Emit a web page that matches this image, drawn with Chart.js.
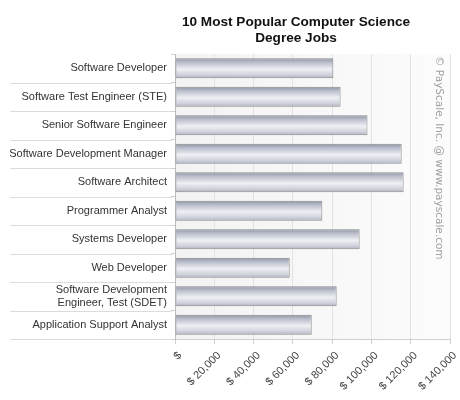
<!DOCTYPE html>
<html>
<head>
<meta charset="utf-8">
<script src="https://cdn.jsdelivr.net/npm/chart.js@4"></script>
<style>
  html, body { margin: 0; padding: 0; background: #fff; }
  #wrap { width: 460px; height: 400px; }
</style>
</head>
<body>
<div id="wrap"><canvas id="myChart" width="460" height="400"></canvas></div>
<script>
const jobs = [
  "Software Developer",
  "Software Test Engineer (STE)",
  "Senior Software Engineer",
  "Software Development Manager",
  "Software Architect",
  "Programmer Analyst",
  "Systems Developer",
  "Web Developer",
  ["Software Development", "Engineer, Test (SDET)"],
  "Application Support Analyst"
];
const medianPay = [80600, 84300, 98000, 115400, 116400, 75000, 94000, 58400, 82300, 69600];
const xTicks = [0, 20000, 40000, 60000, 80000, 100000, 120000, 140000];
const titleLines = ["10 Most Popular Computer Science", "Degree Jobs"];
const watermark = "\u00a9 PayScale, Inc. @ www.payscale.com";

const FONT = "'Liberation Sans', Arial, sans-serif";
const BAR_PCT = 0.7;

function fmtMoney(v) {
  if (v === 0) return "$";
  return "$ " + v.toLocaleString("en-US");
}

// bar fill: darker edges top/bottom, light band in the middle
function barFill(ctx) {
  const chart = ctx.chart;
  const ys = chart.scales.y;
  if (!chart.chartArea || !ys || ctx.dataIndex === undefined) return "#c8ccd6";
  const c = ys.getPixelForValue(ctx.dataIndex);
  const h = Math.abs(ys.getPixelForValue(1) - ys.getPixelForValue(0)) * BAR_PCT;
  const top = c - h / 2;
  const g = chart.ctx.createLinearGradient(0, top, 0, top + h);
  g.addColorStop(0, "#8d93a5");
  g.addColorStop(0.2, "#b9bdca");
  g.addColorStop(0.55, "#eef0f4");
  g.addColorStop(0.85, "#cdd0da");
  g.addColorStop(1, "#a6abba");
  return g;
}

const decor = {
  id: "decor",
  beforeDraw(chart) {
    const { ctx, chartArea: a } = chart;
    ctx.save();
    const g = ctx.createLinearGradient(a.left, 0, a.right, 0);
    g.addColorStop(0, "#f3f3f3");
    g.addColorStop(1, "#fcfcfc");
    ctx.fillStyle = g;
    ctx.fillRect(a.left, a.top, a.right - a.left, a.bottom - a.top);
    // row separators in the label column
    const y = chart.scales.y;
    const step = y.getPixelForValue(1) - y.getPixelForValue(0);
    ctx.strokeStyle = "#dcdcdc";
    ctx.lineWidth = 1;
    for (let i = 0; i < jobs.length; i++) {
      const yy = Math.round(y.getPixelForValue(i) + step / 2) + 0.5;
      ctx.beginPath();
      ctx.moveTo(10, yy);
      ctx.lineTo(a.left - 3, yy);
      ctx.stroke();
    }
    ctx.restore();
  },
  afterDraw(chart) {
    const { ctx, chartArea: a } = chart;
    ctx.save();
    // title
    ctx.fillStyle = "#111";
    ctx.font = "bold 13.6px " + FONT;
    ctx.textAlign = "center";
    ctx.textBaseline = "middle";
    titleLines.forEach((t, i) => ctx.fillText(t, 296, 22 + i * 16));
    // watermark, rotated clockwise
    ctx.translate(439, a.top + 2);
    ctx.rotate(Math.PI / 2);
    ctx.fillStyle = "#a0a0a0";
    ctx.font = "10.5px 'DejaVu Sans', sans-serif";
    ctx.textAlign = "left";
    ctx.fillText(watermark, 0, 0);
    ctx.restore();
  }
};

new Chart(document.getElementById("myChart"), {
  type: "bar",
  data: {
    labels: jobs,
    datasets: [{
      data: medianPay,
      backgroundColor: barFill,
      borderColor: "#8a8a8a",
      borderWidth: 1,
      borderSkipped: false,
      categoryPercentage: 1,
      barPercentage: BAR_PCT
    }]
  },
  options: {
    indexAxis: "y",
    responsive: false,
    animation: false,
    devicePixelRatio: 1,
    layout: { padding: { left: 0, right: 10, top: 54, bottom: 0 } },
    plugins: {
      legend: { display: false },
      title: { display: false },
      tooltip: { enabled: false }
    },
    scales: {
      x: {
        min: 0,
        max: 140000,
        afterBuildTicks(scale) { scale.ticks = xTicks.map(v => ({ value: v })); },
        afterFit(scale) {
          scale.height = 61;
          scale.paddingRight = 0;
          scale.paddingLeft = 0;
        },
        grid: { color: "#e2e2e2", tickLength: 5, tickColor: "#cfcfcf" },
        border: { display: true, color: "#cfcfcf" },
        ticks: {
          minRotation: 45,
          maxRotation: 45,
          padding: 5,
          labelOffset: 5,
          color: "#444",
          font: { family: FONT, size: 11 },
          callback: v => fmtMoney(v)
        }
      },
      y: {
        afterFit(scale) { scale.width = 175; },
        grid: { drawOnChartArea: false, tickLength: 4, tickColor: "#cfcfcf" },
        border: { display: true, color: "#bdbdbd" },
        ticks: {
          padding: 4,
          color: "#333",
          font: { family: FONT, size: 11, lineHeight: 1.15 }
        }
      }
    }
  },
  plugins: [decor]
});
</script>
</body>
</html>
